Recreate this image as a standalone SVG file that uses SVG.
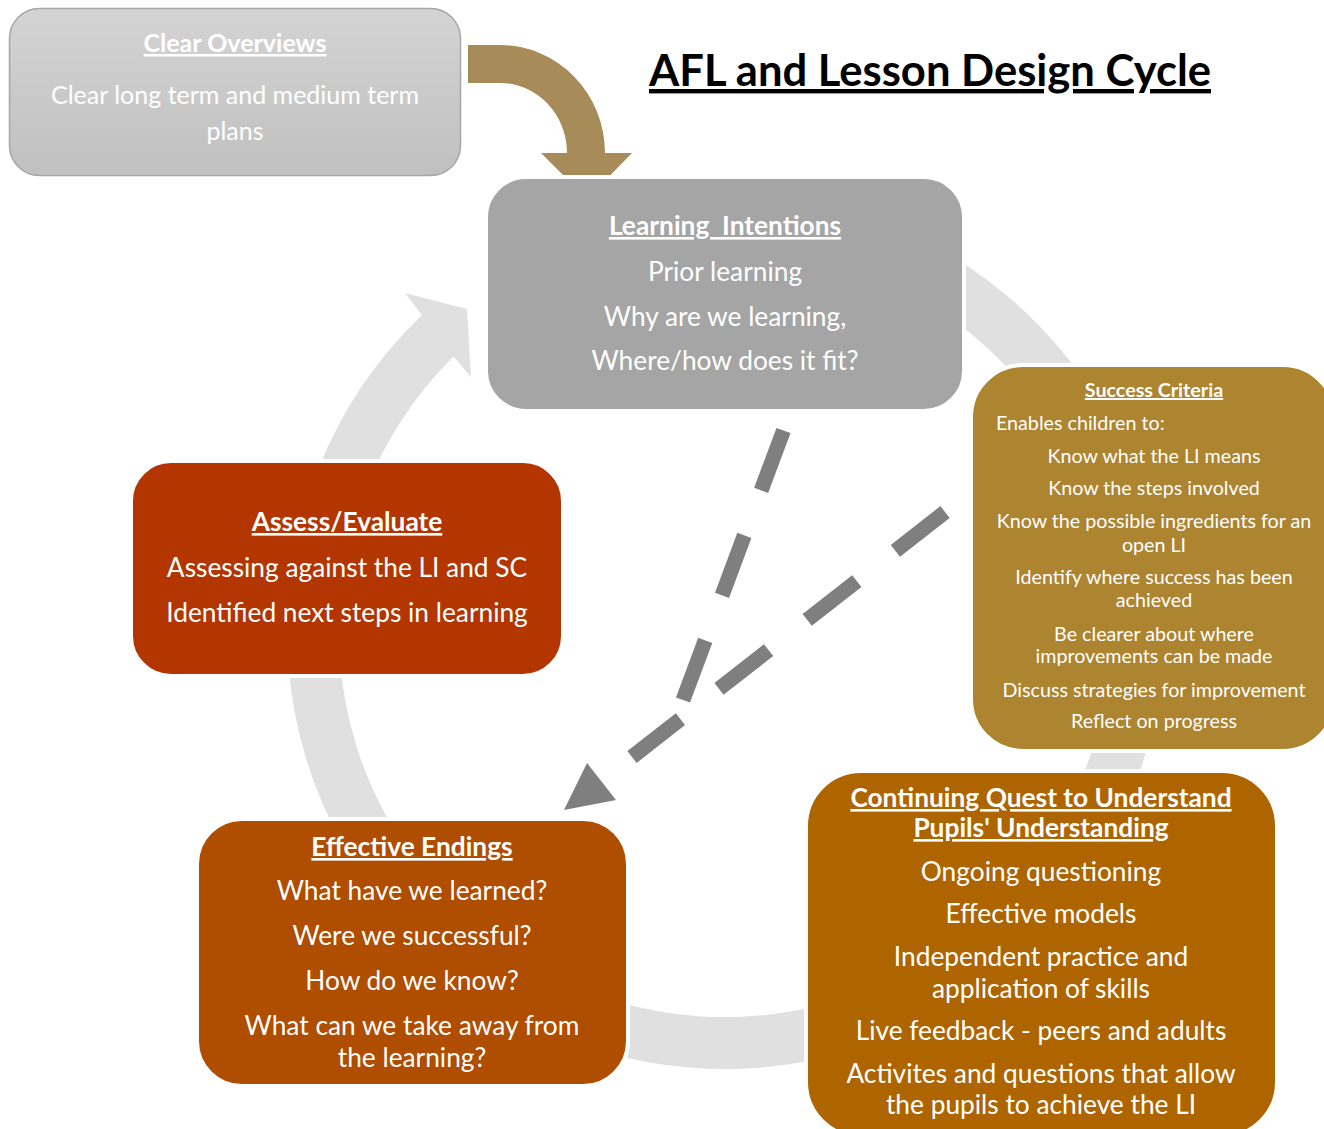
<svg xmlns="http://www.w3.org/2000/svg" width="1324" height="1129" viewBox="0 0 1324 1129">
  <defs>
    <linearGradient id="gOverview" x1="0" y1="0" x2="0" y2="1">
      <stop offset="0" stop-color="#d4d4d4"/>
      <stop offset="1" stop-color="#c0c0c0"/>
    </linearGradient>
  </defs>
  <style>
    text { font-family: Lato, "Liberation Sans", sans-serif; fill: #ffffff; text-anchor: middle; }
    .head { font-weight: bold; text-decoration: underline; }
    .main { font-size: 26.3px; }
    .box { stroke: #ffffff; stroke-width: 4; }
    .sc { font-size: 19.7px; }
    .dash { stroke: #7f7f7f; stroke-width: 15; fill: none; }
  </style>

  <rect width="1324" height="1129" fill="#ffffff"/>

  <!-- background cycle ring with arrowhead at the upper left -->
  <g id="cycle-ring">
    <path fill="#e0e0e0" d="M 838.4 207.9 A 438 438 0 1 1 421.9 314.9 L 405 293 L 467 309 L 471 377 L 453.5 356.6 A 386 386 0 1 0 824.9 258.2 Z"/>
  </g>

  <!-- curved feed arrow from the overview box into the cycle -->
  <g id="feed-arrow">
    <path fill="#a78b58" d="M 468 45 L 500 45 A 105 108 0 0 1 605 153 L 632 153 L 587 199 L 541 153 L 567 153 A 67 70 0 0 0 500 83 L 468 83 Z"/>
  </g>

  <!-- dashed connectors -->
  <g id="connectors">
    <line class="dash" x1="783.5" y1="430.5" x2="683" y2="700" stroke-dasharray="64 48"/>
    <line class="dash" x1="945" y1="512" x2="632" y2="757" stroke-dasharray="63 49"/>
    <polygon fill="#7f7f7f" points="587,763 616,800 564,810"/>
  </g>

  <g id="title">
    <text x="930" y="86" style="fill:#000000;font-size:44px" class="head" textLength="562" lengthAdjust="spacingAndGlyphs">AFL and Lesson Design Cycle</text>
  </g>

  <g id="clear-overviews">
    <rect x="9.5" y="8.5" width="451" height="167" rx="30" fill="url(#gOverview)" stroke="#a6a6a6" stroke-width="1.5"/>
    <text x="235" y="52" class="head" style="font-size:25px">Clear Overviews</text>
    <text x="235" y="104" style="font-size:25px">Clear long term and medium term</text>
    <text x="235" y="140" style="font-size:25px">plans</text>
  </g>

  <g id="learning-intentions">
    <rect class="box" x="486" y="177" width="478" height="234" rx="40" fill="#a5a5a5"/>
    <text x="725" y="235" class="head main">Learning&#160; Intentions</text>
    <text x="725" y="281" class="main">Prior learning</text>
    <text x="725" y="326" class="main">Why are we learning,</text>
    <text x="725" y="370" class="main">Where/how does it fit?</text>
  </g>

  <g id="success-criteria">
    <rect class="box" x="971" y="365" width="364" height="386" rx="52" fill="#ad8430"/>
    <text x="1154" y="397" class="head sc">Success Criteria</text>
    <text x="996" y="430" class="sc" style="text-anchor:start">Enables children to:</text>
    <text x="1154" y="463" class="sc">Know what the LI means</text>
    <text x="1154" y="495" class="sc">Know the steps involved</text>
    <text x="1154" y="528" class="sc">Know the possible ingredients for an</text>
    <text x="1154" y="552" class="sc">open LI</text>
    <text x="1154" y="584" class="sc">Identify where success has been</text>
    <text x="1154" y="607" class="sc">achieved</text>
    <text x="1154" y="641" class="sc">Be clearer about where</text>
    <text x="1154" y="663" class="sc">improvements can be made</text>
    <text x="1154" y="697" class="sc">Discuss strategies for improvement</text>
    <text x="1154" y="728" class="sc">Reflect on progress</text>
  </g>

  <g id="assess-evaluate">
    <rect class="box" x="131" y="461" width="432" height="215" rx="40" fill="#b33600"/>
    <text x="347" y="531" class="head main">Assess/Evaluate</text>
    <text x="347" y="577" class="main">Assessing against the LI and SC</text>
    <text x="347" y="622" class="main">Identified next steps in learning</text>
  </g>

  <g id="effective-endings">
    <rect class="box" x="197" y="819" width="431" height="267" rx="45" fill="#af4d00"/>
    <text x="412" y="856" class="head main">Effective Endings</text>
    <text x="412" y="900" class="main">What have we learned?</text>
    <text x="412" y="945" class="main">Were we successful?</text>
    <text x="412" y="990" class="main">How do we know?</text>
    <text x="412" y="1035" class="main">What can we take away from</text>
    <text x="412" y="1067" class="main">the learning?</text>
  </g>

  <g id="continuing-quest">
    <rect class="box" x="806" y="771" width="471" height="366" rx="55" fill="#ae6500"/>
    <text x="1041" y="807" class="head main">Continuing Quest to Understand</text>
    <text x="1041" y="837" class="head main">Pupils' Understanding</text>
    <text x="1041" y="881" class="main">Ongoing questioning</text>
    <text x="1041" y="923" class="main">Effective models</text>
    <text x="1041" y="966" class="main">Independent practice and</text>
    <text x="1041" y="998" class="main">application of skills</text>
    <text x="1041" y="1040" class="main">Live feedback - peers and adults</text>
    <text x="1041" y="1083" class="main">Activites and questions that allow</text>
    <text x="1041" y="1114" class="main">the pupils to achieve the LI</text>
  </g>
</svg>
